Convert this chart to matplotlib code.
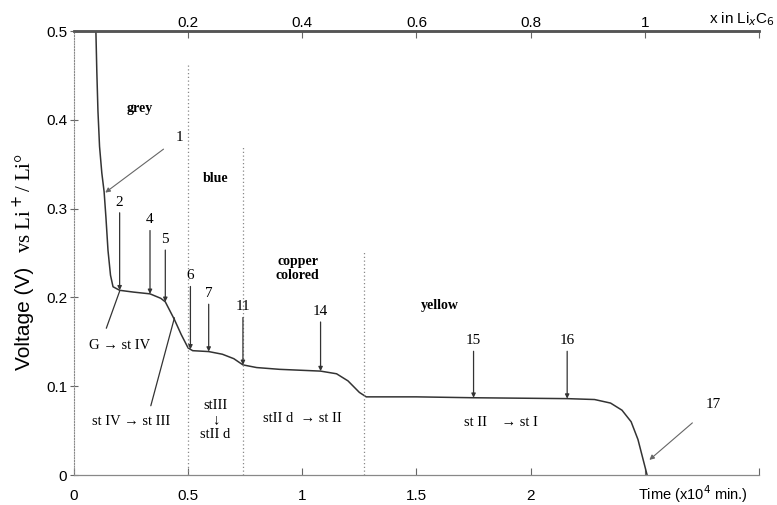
import numpy as np
import matplotlib.pyplot as plt

# discharge curve (time in 1e4 min, voltage in V)
time = [0.096, 0.100, 0.105, 0.112, 0.122, 0.132, 0.140, 0.149, 0.160, 0.171, 0.20, 0.26, 0.333,
        0.38, 0.40, 0.44, 0.47, 0.50, 0.52, 0.59, 0.65, 0.70, 0.74, 0.80, 0.90,
        1.08, 1.15, 1.20, 1.25, 1.28, 1.50, 1.75, 2.16, 2.28, 2.35, 2.40, 2.44,
        2.47, 2.49, 2.51]
voltage = [0.500, 0.455, 0.410, 0.370, 0.340, 0.319, 0.290, 0.253, 0.225, 0.212, 0.208, 0.206, 0.204,
           0.199, 0.195, 0.175, 0.158, 0.143, 0.140, 0.139, 0.136, 0.131, 0.124, 0.121, 0.119,
           0.117, 0.114, 0.106, 0.093, 0.088, 0.088, 0.087, 0.086, 0.085, 0.081, 0.073, 0.060,
           0.040, 0.020, 0.000]

# numbered points on the curve
point_labels = ['2', '4', '5', '6', '7', '11', '14', '15', '16']
point_times = [0.20, 0.333, 0.40, 0.51, 0.59, 0.74, 1.08, 1.75, 2.16]
point_text_y = [0.300, 0.280, 0.258, 0.217, 0.197, 0.182, 0.177, 0.144, 0.144]

# stage boundaries (dotted) and their heights
bound_t = [0.50, 0.74, 1.27]
bound_top = [0.462, 0.370, 0.253]

x_ticks_top = [0.2, 0.4, 0.6, 0.8, 1.0, 1.2]
x_ticks_top_lab = ['0.2', '0.4', '0.6', '0.8', '1', '']

serif = 'Liberation Serif'
sans = 'Liberation Sans'
ink = '#333333'

fig = plt.figure(figsize=(7.77, 5.05), dpi=100)
ax = fig.add_axes([0.0952, 0.0594, 0.8816, 0.8792])

ax.plot(time, voltage, color=ink, lw=1.1)
ax.set_xlim(0, 3.0)
ax.set_ylim(0, 0.5)

for t, top in zip(bound_t, bound_top):
    ax.plot([t, t], [0, top], ls=(0, (1, 2)), color='#888888', lw=0.9)

# spines
ax.spines['right'].set_visible(False)
ax.spines['top'].set_linewidth(1.8)
ax.spines['top'].set_color('#555555')
ax.spines['left'].set_linestyle((0, (1, 1.5)))
ax.spines['left'].set_color('#888888')
ax.spines['left'].set_linewidth(0.8)
ax.spines['bottom'].set_color('#888888')
ax.spines['bottom'].set_linewidth(0.9)

ax.set_yticks([0, 0.1, 0.2, 0.3, 0.4, 0.5])
ax.set_yticklabels(['0', '0.1', '0.2', '0.3', '0.4', '0.5'], fontfamily=sans, fontsize=11)
ax.set_xticks([0, 0.5, 1, 1.5, 2, 2.5, 3])
ax.set_xticklabels(['0', '0.5', '1', '1.5', '2', '', ''], fontfamily=sans, fontsize=11)
ax.tick_params(axis='y', direction='inout', length=6, color='#666666', pad=2)
ax.tick_params(axis='x', direction='in', length=5, color='#666666', pad=10)

sec = ax.secondary_xaxis('top', functions=(lambda t: t * 0.4, lambda x: x / 0.4))
sec.set_xticks(x_ticks_top)
sec.set_xticklabels(x_ticks_top_lab, fontfamily=sans, fontsize=11)
sec.tick_params(direction='in', length=5, color='#666666', pad=1)
sec.spines['top'].set_linewidth(1.8)
sec.spines['top'].set_color('#555555')

fig.text(0.998, 0.962, 'x in Li$_x$C$_6$', ha='right', va='center',
         fontfamily=sans, fontsize=11)
ax.text(2.47, -0.021, 'Time (x10$^4$ min.)', ha='left', va='center',
        fontfamily=sans, fontsize=10.5)

# y label: sans part + serif part
fig.text(0.032, 0.370, 'Voltage (V)', rotation=90, ha='center', va='center',
         fontfamily=sans, fontsize=15)
fig.text(0.032, 0.598, 'vs Li$^+$/ Li°', rotation=90, ha='center', va='center',
         fontfamily=serif, fontsize=15)

arrow = dict(arrowstyle='-|>', color=ink, lw=0.9, mutation_scale=6, shrinkA=1, shrinkB=0)

for lab, t, ty in zip(point_labels, point_times, point_text_y):
    v = np.interp(t, time, voltage)
    ax.annotate(lab, xy=(t, v), xytext=(t, ty), ha='center', va='bottom',
                fontfamily=serif, fontsize=11, arrowprops=arrow)

ax.annotate('1', xy=(0.137, 0.318), xytext=(0.46, 0.38), ha='center', va='center',
            fontfamily=serif, fontsize=11,
            arrowprops=dict(arrowstyle='-|>', color='#666666', lw=0.8, mutation_scale=7,
                            shrinkA=8, shrinkB=0))
ax.annotate('17', xy=(2.52, 0.017), xytext=(2.80, 0.079), ha='center', va='center',
            fontfamily=serif, fontsize=11,
            arrowprops=dict(arrowstyle='-|>', color='#666666', lw=0.8, mutation_scale=7,
                            shrinkA=10, shrinkB=0))

# stage transitions
ax.annotate('G → st IV', xy=(0.20, 0.207), xytext=(0.20, 0.146), ha='center', va='center',
            fontfamily=serif, fontsize=10.5,
            arrowprops=dict(arrowstyle='-', color=ink, lw=0.9, shrinkA=6, shrinkB=0,
                            relpos=(0.22, 1.0)))
ax.annotate('st IV → st III', xy=(0.44, 0.177), xytext=(0.25, 0.06), ha='center', va='center',
            fontfamily=serif, fontsize=10.5,
            arrowprops=dict(arrowstyle='-', color=ink, lw=0.9, shrinkA=5, shrinkB=0,
                            relpos=(0.72, 1.0)))
ax.text(0.62, 0.062, 'stIII\n↓\nstII d', ha='center', va='center', fontfamily=serif,
        fontsize=10.5, linespacing=1.15)
ax.text(1.00, 0.064, 'stII d  → st II', ha='center', va='center', fontfamily=serif, fontsize=10.5)
ax.text(1.87, 0.059, 'st II    → st I', ha='center', va='center', fontfamily=serif, fontsize=10.5)

# colours of the compound
ax.text(0.29, 0.413, 'grey', ha='center', va='center', fontfamily=serif, fontsize=10, weight='bold')
ax.text(0.62, 0.334, 'blue', ha='center', va='center', fontfamily=serif, fontsize=10, weight='bold')
ax.text(0.98, 0.232, 'copper\ncolored', ha='center', va='center', fontfamily=serif, fontsize=10,
        weight='bold', linespacing=1.1)
ax.text(1.60, 0.191, 'yellow', ha='center', va='center', fontfamily=serif, fontsize=10, weight='bold')

fig.savefig('out.png', dpi=100)
